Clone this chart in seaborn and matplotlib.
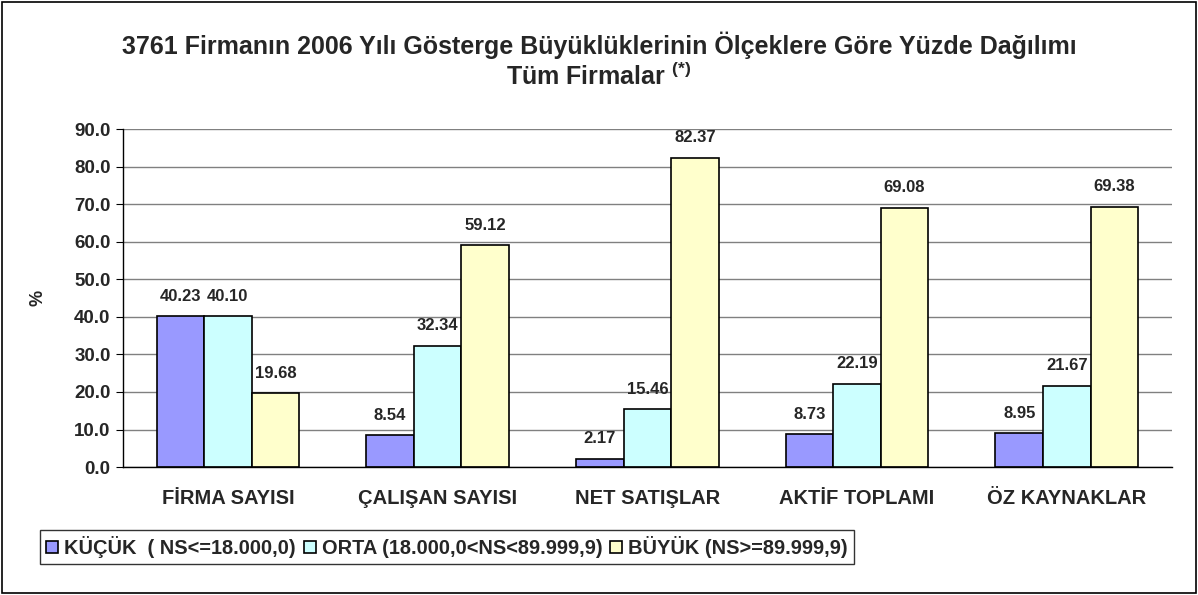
import pandas as pd
import numpy as np
import matplotlib
matplotlib.use("Agg")
import matplotlib.pyplot as plt
import seaborn as sns
from matplotlib.patches import Rectangle

# chart data
categories = ["FİRMA SAYISI", "ÇALIŞAN SAYISI", "NET SATIŞLAR", "AKTİF TOPLAMI", "ÖZ KAYNAKLAR"]
series_names = ["KÜÇÜK  ( NS<=18.000,0)", "ORTA (18.000,0<NS<89.999,9)", "BÜYÜK (NS>=89.999,9)"]
kucuk = [40.23, 8.54, 2.17, 8.73, 8.95]
orta = [40.10, 32.34, 15.46, 22.19, 21.67]
buyuk = [19.68, 59.12, 82.37, 69.08, 69.38]
colors = ["#9999FF", "#CCFFFF", "#FFFFCC"]

rows = []
for name, vals in zip(series_names, [kucuk, orta, buyuk]):
    for cat, v in zip(categories, vals):
        rows.append({"Kategori": cat, "Seri": name, "Deger": v})
df = pd.DataFrame(rows)

sns.set_style("white")
plt.rcParams["font.family"] = ["Liberation Sans", "DejaVu Sans"]
plt.rcParams["mathtext.fontset"] = "custom"
plt.rcParams["mathtext.bf"] = "Liberation Sans:bold"
plt.rcParams["mathtext.rm"] = "Liberation Sans:bold"

fig = plt.figure(figsize=(11.98, 5.95), dpi=100)
ax = fig.add_axes([0.1027, 0.215, 0.8753, 0.568])

sns.barplot(data=df, x="Kategori", y="Deger", hue="Seri", palette=colors, saturation=1,
            width=0.68, edgecolor="black", linewidth=1.2, ax=ax, legend=True)

for cont in ax.containers:
    ax.bar_label(cont, fmt="%.2f", padding=9, fontsize=12, fontweight="bold")

ax.set_ylim(0, 90)
ax.set_yticks(np.arange(0, 91, 10))
ax.set_yticklabels([f"{v:.1f}" for v in np.arange(0, 91, 10)], fontsize=13.5, fontweight="bold")
ax.set_xlim(-0.5, len(categories) - 0.5)
ax.set_xticks(range(len(categories)))
ax.set_xticklabels(categories, fontsize=14.5, fontweight="bold")
ax.set_xticks(np.arange(-0.5, len(categories)), minor=True)
ax.tick_params(axis="x", which="major", length=0, pad=16)
ax.tick_params(axis="x", which="minor", length=5, direction="out", color="black")
ax.tick_params(axis="y", length=5, direction="out", color="black", left=True, pad=4)
ax.grid(axis="y", color="#808080", linewidth=1)
ax.set_axisbelow(True)
ax.set_xlabel("")
ax.set_ylabel("%", fontsize=13, fontweight="bold", labelpad=20)
for side in ["top", "right"]:
    ax.spines[side].set_visible(False)
for side in ["left", "bottom"]:
    ax.spines[side].set_color("black")
    ax.spines[side].set_linewidth(1)

fig.text(0.5, 0.924, "3761 Firmanın 2006 Yılı Gösterge Büyüklüklerinin Ölçeklere Göre Yüzde Dağılımı",
         ha="center", va="center", fontsize=18, fontweight="bold")
fig.text(0.5, 0.872, r"Tüm Firmalar $^{\mathbf{(*)}}$", ha="center", va="center",
         fontsize=18, fontweight="bold")

handles, labels = ax.get_legend_handles_labels()
ax.get_legend().remove()
leg = fig.legend(handles, labels, loc="upper left", bbox_to_anchor=(0.0334, 0.109),
                 ncol=3, frameon=True, fancybox=False, edgecolor="black",
                 prop={"weight": "bold", "size": 14.4}, handlelength=0.6, handleheight=0.6,
                 handletextpad=0.3, columnspacing=0.4, borderpad=0.3, borderaxespad=0)
leg.get_frame().set_linewidth(1)

fig.add_artist(Rectangle((0.002, 0.003), 0.996, 0.994, transform=fig.transFigure,
                         fill=False, edgecolor="black", linewidth=1.2))

fig.savefig("out.png", dpi=100)
